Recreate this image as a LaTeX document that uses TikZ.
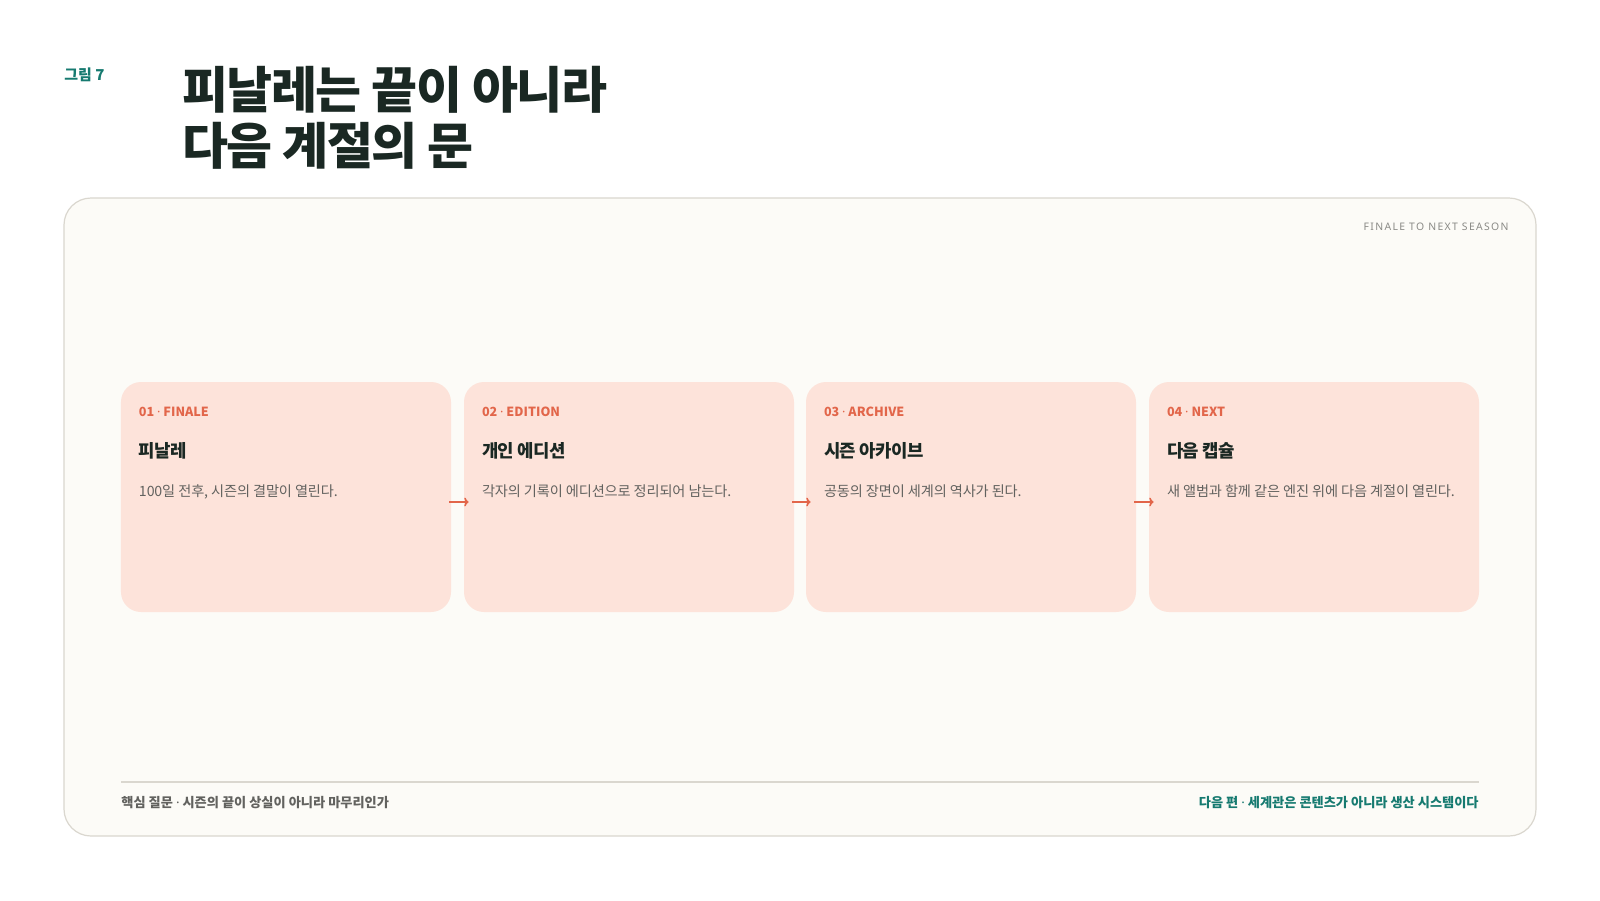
\documentclass[tikz,border=0pt]{standalone}
\usepackage{fontspec}
\setmainfont{Noto Sans CJK KR}
\newfontfamily\heavyfont{Noto Sans CJK KR Black}
\newfontfamily\latinfont{Noto Sans}
\newcommand\mdot{{\latinfont\char"00B7}}
\usetikzlibrary{calc,arrows.meta}
\definecolor{paper}{HTML}{FCFBF7}
\definecolor{panelline}{HTML}{DAD7CF}
\definecolor{cardfill}{HTML}{FDE3DA}
\definecolor{tagred}{HTML}{E2664A}
\definecolor{ink}{HTML}{1A2823}
\definecolor{descgrey}{HTML}{62625F}
\definecolor{teal}{HTML}{167A70}
\definecolor{seasongrey}{HTML}{8A8A86}
\tikzset{
	card/.style={fill=cardfill, rounded corners=10bp, minimum width=165bp, minimum height=115bp, inner sep=0},
	tag/.style={anchor=west, inner sep=0, text=tagred, font=\bfseries\fontsize{6.3bp}{8bp}\selectfont},
	head/.style={anchor=west, inner sep=0, text=ink, font=\bfseries\addfontfeature{LetterSpace=-3}\fontsize{8.9bp}{11bp}\selectfont},
	desc/.style={anchor=west, inner sep=0, text=descgrey, font=\addfontfeature{LetterSpace=-1}\fontsize{7.1bp}{9bp}\selectfont},
	flow/.style={draw=tagred, line width=0.8bp, -{To[length=2.2bp,width=4.4bp]}},
}

\begin{document}
\begin{tikzpicture}[x=0.5bp, y=-0.5bp]
		%%%%% START %%%%%
		
		\fill[white] (0, 0) rectangle (1600, 900);
		\useasboundingbox (0, 0) rectangle (1600, 900);
		
		\node[anchor=west, inner sep=0, text=teal, font=\bfseries\fontsize{7.5bp}{8bp}\selectfont] (fig) at (64, 75) {그림 7};
		\node[anchor=west, inner sep=0, align=left, text=ink, font=\heavyfont\addfontfeature{LetterSpace=-3}\fontsize{25bp}{28bp}\selectfont] (title) at (182, 118) {피날레는 끝이 아니라\\다음 계절의 문};
		
		\draw[draw=panelline, fill=paper, line width=0.6bp, rounded corners=13.5bp] (64, 198) rectangle (1536, 836);
		
		\node[anchor=east, inner sep=0, text=seasongrey, font=\latinfont\addfontfeature{LetterSpace=13}\fontsize{5.2bp}{6bp}\selectfont] (season) at (1509, 227) {FINALE TO NEXT SEASON};
		
		\node[card] (c1) at (286, 497) {};
		\node[card] (c2) at (629, 497) {};
		\node[card] (c3) at (971, 497) {};
		\node[card] (c4) at (1314, 497) {};
		
		\node[tag] (tag1) at ($(c1.north west)+(18, 30)$) {01 \mdot{} FINALE};
		\node[head] (head1) at ($(c1.north west)+(18, 69)$) {피날레};
		\node[desc] (desc1) at ($(c1.north west)+(18, 110)$) {100일 전후, 시즌의 결말이 열린다.};
		
		\node[tag] (tag2) at ($(c2.north west)+(18, 30)$) {02 \mdot{} EDITION};
		\node[head] (head2) at ($(c2.north west)+(18, 69)$) {개인 에디션};
		\node[desc] (desc2) at ($(c2.north west)+(18, 110)$) {각자의 기록이 에디션으로 정리되어 남는다.};
		
		\node[tag] (tag3) at ($(c3.north west)+(18, 30)$) {03 \mdot{} ARCHIVE};
		\node[head] (head3) at ($(c3.north west)+(18, 69)$) {시즌 아카이브};
		\node[desc] (desc3) at ($(c3.north west)+(18, 110)$) {공동의 장면이 세계의 역사가 된다.};
		
		\node[tag] (tag4) at ($(c4.north west)+(18, 30)$) {04 \mdot{} NEXT};
		\node[head] (head4) at ($(c4.north west)+(18, 69)$) {다음 캡슐};
		\node[desc] (desc4) at ($(c4.north west)+(18, 110)$) {새 앨범과 함께 같은 엔진 위에 다음 계절이 열린다.};
		
		\draw[flow] ($(c1.east)+(-2, 5)$) -- ($(c2.west)+(5, 5)$);
		\draw[flow] ($(c2.east)+(-2, 5)$) -- ($(c3.west)+(5, 5)$);
		\draw[flow] ($(c3.east)+(-2, 5)$) -- ($(c4.west)+(5, 5)$);
		
		\draw[draw=panelline, line width=0.6bp] (121, 782) -- (1479, 782);
		
		\node[anchor=west, inner sep=0, text=descgrey, font=\bfseries\fontsize{6.6bp}{8bp}\selectfont] (question) at (121, 803) {핵심 질문 \mdot{} 시즌의 끝이 상실이 아니라 마무리인가};
		\node[anchor=east, inner sep=0, text=teal, font=\bfseries\fontsize{6.6bp}{8bp}\selectfont] (nextpart) at (1479, 803) {다음 편 \mdot{} 세계관은 콘텐츠가 아니라 생산 시스템이다};
		
		%%%%% END %%%%%
\end{tikzpicture}
\end{document}
